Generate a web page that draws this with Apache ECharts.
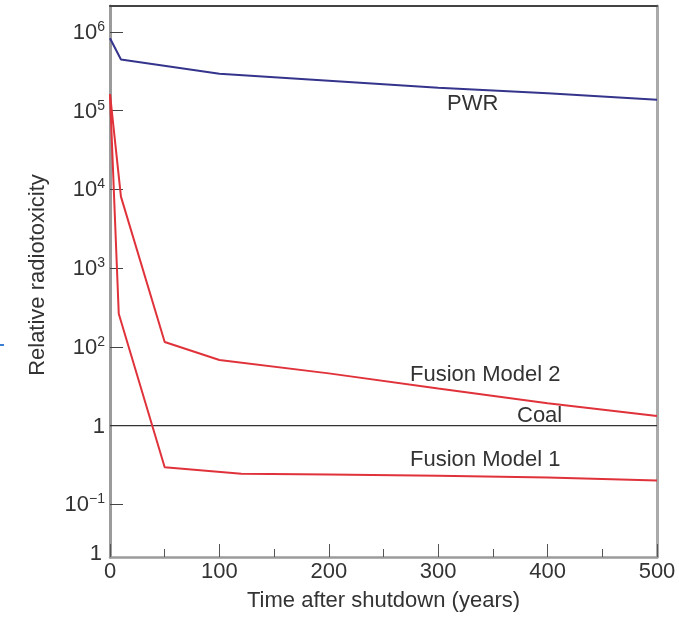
<!DOCTYPE html>
<html>
<head>
<meta charset="utf-8">
<script src="https://cdn.jsdelivr.net/npm/echarts@6/dist/echarts.min.js"></script>
<style>
html,body{margin:0;padding:0;background:#fff;}
#chart{width:679px;height:617px;}
</style>
</head>
<body>
<div id="chart"></div>
<script>
// ---- data (years after shutdown, relative radiotoxicity in axis units) ----
var pwrYears = [0, 10, 100, 200, 300, 400, 500];
var pwrValues = [832000, 447000, 295000, 240000, 195000, 166000, 138000];

var fusion2Years = [0, 10, 50, 100, 200, 300, 400, 500];
var fusion2Values = [162000, 8100, 115, 68, 46, 29.6, 19.2, 13.2];

var fusion1Years = [0, 8, 50, 120, 200, 300, 400, 500];
var fusion1Values = [162000, 263, 2.95, 2.45, 2.38, 2.3, 2.19, 2.0];

var coalYears = [0, 500];
var coalValues = [10, 10];

var xTicks = [0, 100, 200, 300, 400, 500];
var yTickValues = [0.2138, 1, 10, 100, 1000, 10000, 100000, 1000000];
var yTickLabels = ['{b|1}', '{n|10}{s|\u22121}', '{n|1}', '{n|10}{s|2}', '{n|10}{s|3}', '{n|10}{s|4}', '{n|10}{s|5}', '{n|10}{s|6}'];

function pairs(xs, ys) { return xs.map(function (x, i) { return [x, ys[i]]; }); }

var chart = echarts.init(document.getElementById('chart'), null, {renderer: 'canvas'});
var font = 'Liberation Sans, Arial, Helvetica, sans-serif';
var textColor = '#333';

var option = {
  animation: false,
  backgroundColor: '#fff',
  textStyle: {fontFamily: font},
  grid: {left: 110, right: 22, top: 6, bottom: 55, containLabel: false},
  xAxis: [{
    type: 'value', min: 0, max: 500, interval: 100,
    name: 'Time after shutdown (years)', nameLocation: 'middle', nameGap: 33,
    nameTextStyle: {fontSize: 22, color: textColor, fontFamily: font},
    axisLine: {show: true, lineStyle: {color: '#9b9b9b', width: 2.5}},
    axisTick: {show: true, inside: true, length: 13, lineStyle: {color: '#555', width: 1}},
    minorTick: {show: true, splitNumber: 2, length: 8, lineStyle: {color: '#555', width: 1}},
    axisLabel: {fontSize: 22, color: textColor, margin: 4, fontFamily: font},
    splitLine: {show: false}
  }, {
    type: 'value', min: 0, max: 500, position: 'top',
    axisLine: {show: true, onZero: false, lineStyle: {color: '#444', width: 2}},
    axisTick: {show: false}, axisLabel: {show: false}, splitLine: {show: false}
  }],
  yAxis: [{
    type: 'log', logBase: 10, min: 0.2138, max: 2138000,
    axisLine: {show: true, lineStyle: {color: '#9b9b9b', width: 3}},
    axisTick: {show: true, inside: true, length: 13, lineStyle: {color: '#444', width: 1},
      customValues: yTickValues.slice(1)},
    axisLabel: {
      customValues: yTickValues,
      margin: 5,
      formatter: function (v) {
        var best = 0, bd = Infinity;
        for (var i = 0; i < yTickValues.length; i++) {
          var d = Math.abs(Math.log10(v) - Math.log10(yTickValues[i]));
          if (d < bd) { bd = d; best = i; }
        }
        return yTickLabels[best];
      },
      rich: {
        n: {fontSize: 22, color: textColor, fontFamily: font, verticalAlign: 'bottom', lineHeight: 24},
        s: {fontSize: 14, color: textColor, fontFamily: font, verticalAlign: 'top', lineHeight: 24, padding: [0, 0, 7, 0]},
        b: {fontSize: 22, color: textColor, fontFamily: font, padding: [0, 3, 6, 0]}
      }
    },
    splitLine: {show: false}, minorSplitLine: {show: false}
  }, {
    type: 'value', min: 0, max: 1, position: 'right',
    axisLine: {show: true, onZero: false, lineStyle: {color: '#aaaaaa', width: 3}},
    axisTick: {show: false}, axisLabel: {show: false}, splitLine: {show: false}
  }],
  series: [{
    name: 'Coal', type: 'line', data: pairs(coalYears, coalValues),
    showSymbol: false, lineStyle: {color: '#333', width: 1.2}, z: 2
  }, {
    name: 'PWR', type: 'line', data: pairs(pwrYears, pwrValues),
    showSymbol: false, lineStyle: {color: '#34348c', width: 2}, z: 3
  }, {
    name: 'Fusion Model 2', type: 'line', data: pairs(fusion2Years, fusion2Values),
    showSymbol: false, lineStyle: {color: '#e0323a', width: 2}, z: 3
  }, {
    name: 'Fusion Model 1', type: 'line', data: pairs(fusion1Years, fusion1Values),
    showSymbol: false, lineStyle: {color: '#e0323a', width: 2}, z: 3
  }],
  graphic: [
    {type: 'text', x: 38, y: 275, rotation: Math.PI / 2,
      style: {text: 'Relative radiotoxicity', fontSize: 22, fill: textColor, fontFamily: font, align: 'center', verticalAlign: 'middle'}},
    {type: 'text', left: 447, top: 93, style: {text: 'PWR', fontSize: 22, fill: textColor, fontFamily: font}},
    {type: 'text', left: 410, top: 364, style: {text: 'Fusion Model 2', fontSize: 22, fill: textColor, fontFamily: font}},
    {type: 'text', left: 517, top: 405, style: {text: 'Coal', fontSize: 22, fill: textColor, fontFamily: font}},
    {type: 'text', left: 410, top: 449, style: {text: 'Fusion Model 1', fontSize: 22, fill: textColor, fontFamily: font}},
    {type: 'line', shape: {x1: 0, y1: 345, x2: 4, y2: 345}, style: {stroke: '#3c7fd0', lineWidth: 2}}
  ]
};
chart.setOption(option);
</script>
</body>
</html>
